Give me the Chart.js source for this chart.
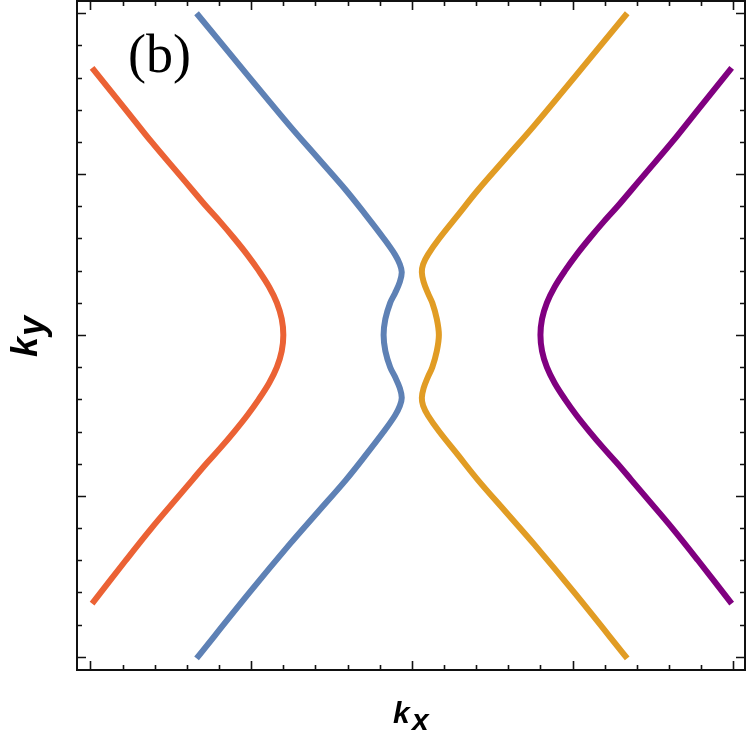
<!DOCTYPE html>
<html>
<head>
<meta charset="utf-8">
<script src="https://cdn.jsdelivr.net/npm/chart.js@4"></script>
<style>
  body { margin: 0; background: #fff; }
  #wrap { position: relative; width: 750px; height: 746px; }
  #wrap canvas { position: absolute; left: 0; top: 0; }
  .lbl { position: absolute; white-space: nowrap; color: #000; margin: 0; padding: 0; }
  .tag { font: 54px/54px "Liberation Serif", serif; left: 128px; top: 27px; }
  .ax { font: italic bold 30px/30px "Liberation Sans", sans-serif; }
  .axy { font: italic bold 36px/36px "Liberation Sans", sans-serif; }
  #ky { position: absolute; left: 0; top: 0; width: 0; height: 0; transform-origin: 0 0; transform: translate(37px, 357px) rotate(-90deg); }
</style>
</head>
<body>
<div id="wrap">
  <canvas id="bandChart" width="750" height="746"></canvas>
  <div class="lbl tag">(b)</div>
  <div class="lbl ax" style="left:393px; top:698px;">k</div>
  <div class="lbl ax" style="left:412px; top:705px;">x</div>
  <div id="ky">
    <div class="lbl axy" style="left:0; top:-30px;">k</div>
    <div class="lbl axy" style="left:21px; top:-23px;">y</div>
  </div>
</div>
<script>
// curve samples (k_x, k_y)
const redY    = [1.66, 1.4, 1.2, 1.0, 0.9, 0.8, 0.7, 0.6, 0.5, 0.4, 0.3, 0.2, 0.1, 0, -0.1, -0.2, -0.3, -0.4, -0.5, -0.6, -0.7, -0.8, -0.9, -1.0, -1.2, -1.4, -1.67];
const redX    = [-1.99, -1.78, -1.62, -1.45, -1.365, -1.28, -1.19, -1.105, -1.025, -0.953, -0.889, -0.84, -0.81, -0.80, -0.81, -0.84, -0.889, -0.953, -1.025, -1.105, -1.19, -1.28, -1.365, -1.45, -1.62, -1.78, -1.99];
const purpleY = [1.66, 1.4, 1.2, 1.0, 0.9, 0.8, 0.7, 0.6, 0.5, 0.4, 0.3, 0.2, 0.1, 0, -0.1, -0.2, -0.3, -0.4, -0.5, -0.6, -0.7, -0.8, -0.9, -1.0, -1.2, -1.4, -1.67];
const purpleX = [1.99, 1.78, 1.62, 1.45, 1.365, 1.28, 1.19, 1.105, 1.025, 0.953, 0.889, 0.84, 0.81, 0.80, 0.81, 0.84, 0.889, 0.953, 1.025, 1.105, 1.19, 1.28, 1.365, 1.45, 1.62, 1.78, 1.99];
const blueY   = [2.0, 1.6, 1.3, 1.1, 0.9, 0.75, 0.6, 0.5, 0.44, 0.39, 0.33, 0.26, 0.2, 0.1, 0, -0.1, -0.2, -0.26, -0.33, -0.39, -0.44, -0.5, -0.6, -0.75, -0.9, -1.1, -1.3, -1.6, -2.01];
const blueX   = [-1.34, -1.01, -0.76, -0.585, -0.41, -0.29, -0.175, -0.105, -0.075, -0.063, -0.075, -0.105, -0.135, -0.165, -0.176, -0.165, -0.135, -0.105, -0.075, -0.063, -0.075, -0.105, -0.175, -0.29, -0.41, -0.585, -0.76, -1.01, -1.34];
const yellowY = [2.0, 1.6, 1.3, 1.1, 0.9, 0.75, 0.6, 0.5, 0.44, 0.39, 0.33, 0.26, 0.2, 0.1, 0, -0.1, -0.2, -0.26, -0.33, -0.39, -0.44, -0.5, -0.6, -0.75, -0.9, -1.1, -1.3, -1.6, -2.01];
const yellowX = [1.34, 1.01, 0.76, 0.585, 0.41, 0.29, 0.17, 0.10, 0.07, 0.062, 0.073, 0.10, 0.127, 0.155, 0.168, 0.155, 0.127, 0.10, 0.073, 0.062, 0.07, 0.10, 0.17, 0.29, 0.41, 0.585, 0.76, 1.01, 1.34];

const majorTicks = [-2, -1, 0, 1, 2];
const minorTicks = [-1.8, -1.6, -1.4, -1.2, -0.8, -0.6, -0.4, -0.2, 0.2, 0.4, 0.6, 0.8, 1.2, 1.4, 1.6, 1.8];

function pts(xs, ys) {
    return xs.map((x, i) => ({ x: x, y: ys[i] }));
}

function line(data, color) {
    return {
        data: data,
        borderColor: color,
        borderWidth: 6,
        borderCapStyle: 'butt',
        borderJoinStyle: 'round',
        showLine: true,
        pointRadius: 0,
        tension: 0.35,
        fill: false
    };
}

// frame with inward ticks on all four sides
const framePlugin = {
    id: 'frame',
    afterDraw(chart) {
        const ctx = chart.ctx;
        const a = chart.chartArea;
        const sx = chart.scales.x, sy = chart.scales.y;
        ctx.save();
        ctx.strokeStyle = '#111';
        ctx.lineWidth = 1.6;
        const tick = (vals, len) => {
            vals.forEach(v => {
                const px = Math.round(sx.getPixelForValue(v)) + 0.5;
                const py = Math.round(sy.getPixelForValue(v)) + 0.5;
                ctx.beginPath();
                ctx.moveTo(px, a.bottom); ctx.lineTo(px, a.bottom - len);
                ctx.moveTo(px, a.top); ctx.lineTo(px, a.top + len);
                ctx.moveTo(a.left, py); ctx.lineTo(a.left + len, py);
                ctx.moveTo(a.right, py); ctx.lineTo(a.right - len, py);
                ctx.stroke();
            });
        };
        tick(majorTicks, 9);
        tick(minorTicks, 5);
        ctx.lineWidth = 2;
        ctx.strokeRect(a.left, a.top, a.right - a.left, a.bottom - a.top);
        ctx.restore();
    }
};

new Chart(document.getElementById('bandChart'), {
    type: 'scatter',
    data: {
        datasets: [
            line(pts(redX, redY), '#EB6235'),
            line(pts(blueX, blueY), '#5E81B5'),
            line(pts(yellowX, yellowY), '#E19C24'),
            line(pts(purpleX, purpleY), '#800080')
        ]
    },
    options: {
        responsive: false,
        animation: false,
        layout: { padding: { left: 77, right: 5, top: 1, bottom: 76 } },
        scales: {
            x: { type: 'linear', min: -2.084, max: 2.073, display: false },
            y: { type: 'linear', min: -2.082, max: 2.076, display: false }
        },
        plugins: {
            legend: { display: false },
            tooltip: { enabled: false }
        }
    },
    plugins: [framePlugin]
});
</script>
</body>
</html>
